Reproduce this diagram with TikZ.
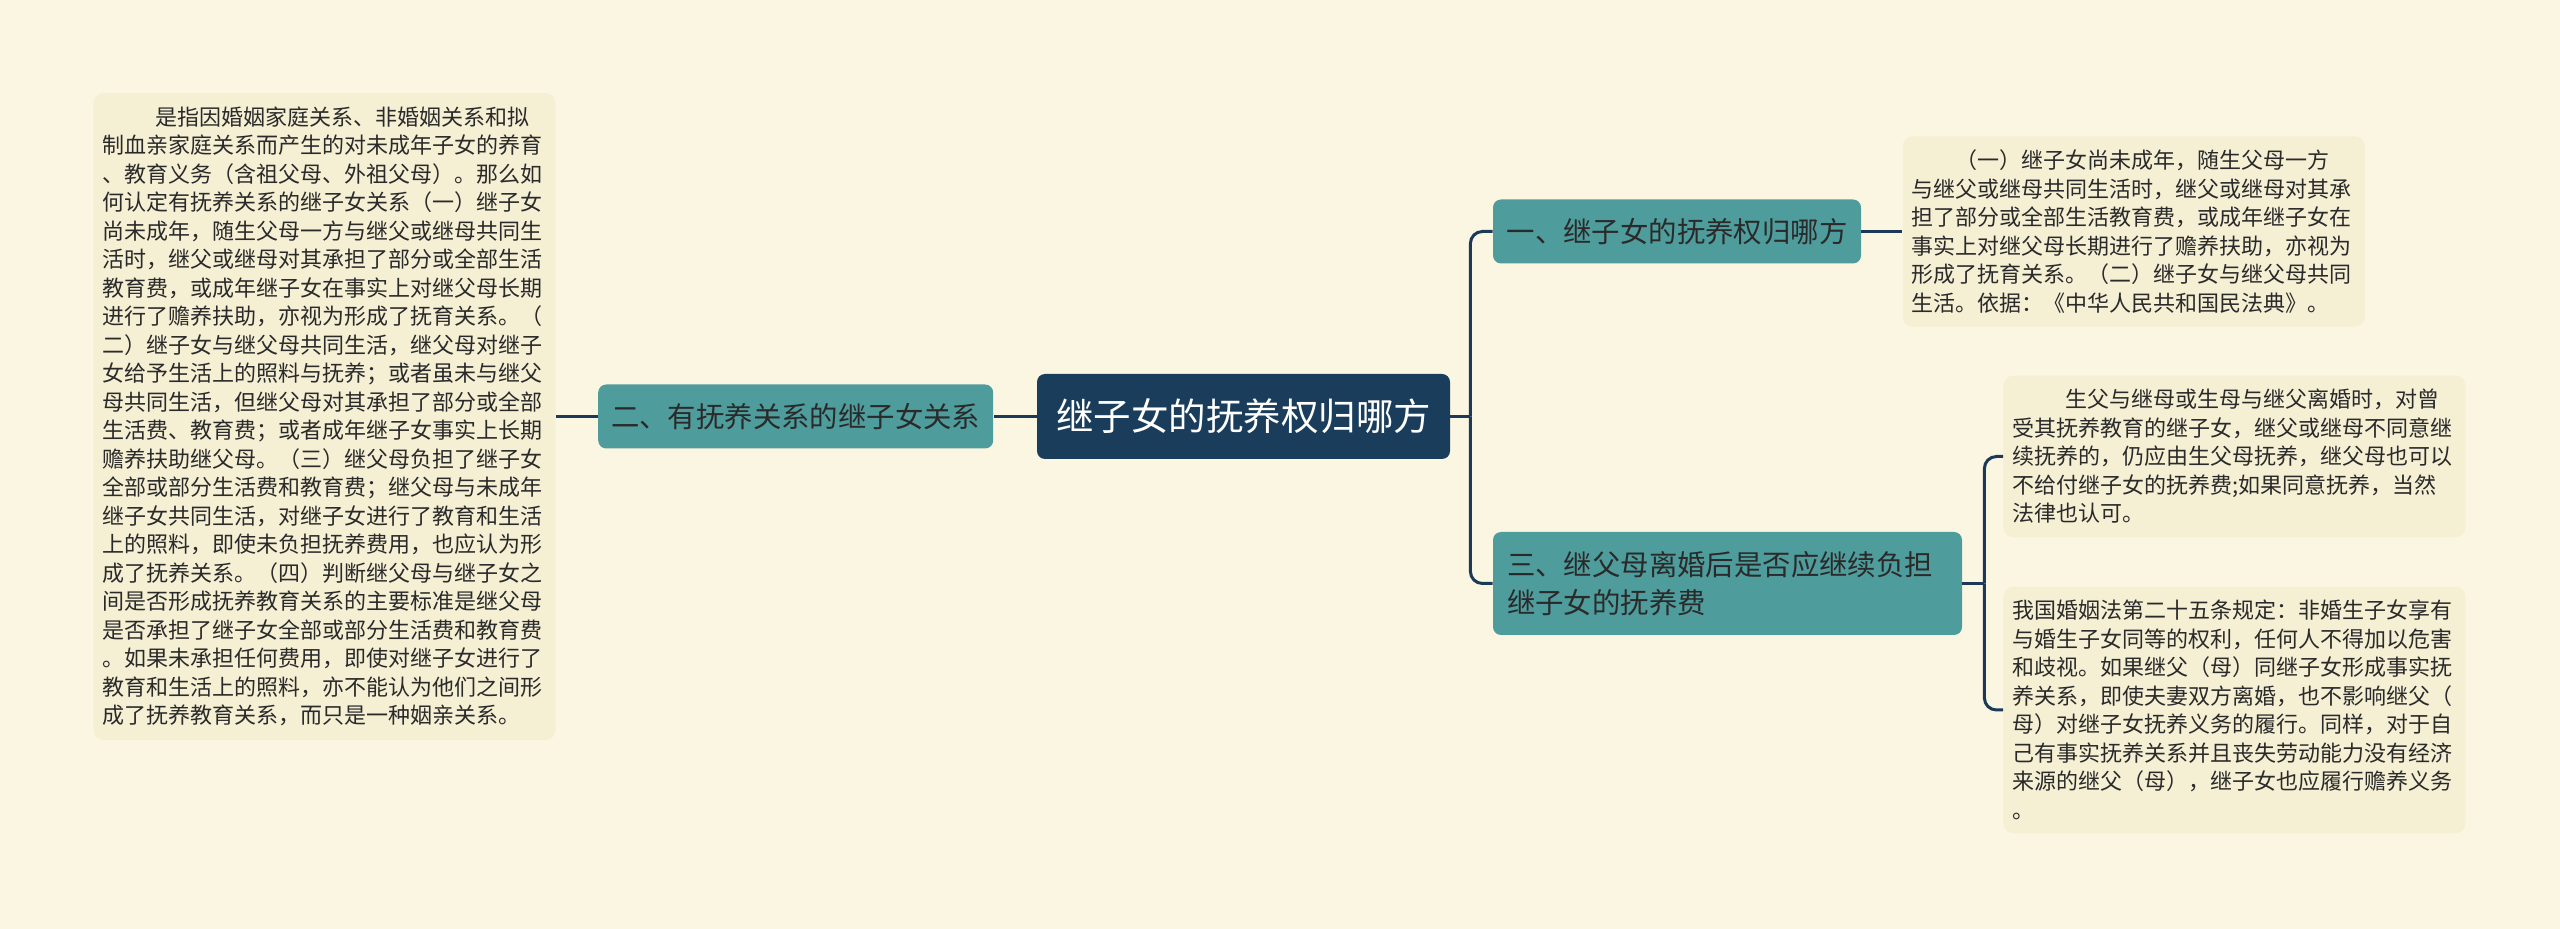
\documentclass[tikz,border=0pt]{standalone}
\usepackage{fontspec}
\newfontfamily\cjk{Noto Sans CJK SC}
\usepackage{xcolor}
\usepackage{tikz}
\usetikzlibrary{positioning}
\definecolor{bgcream}{HTML}{FBF6E2}
\definecolor{notefill}{HTML}{F5EFD4}
\definecolor{rootnavy}{HTML}{1A3D5C}
\definecolor{branchteal}{HTML}{4F9C9C}
\definecolor{linknavy}{HTML}{1C3A58}
\definecolor{inktext}{HTML}{2A2A2A}
\tikzset{
    rootbox/.style={rectangle, rounded corners=4pt, minimum width=206.5pt, minimum height=42.5pt, text centered, fill=rootnavy, text=white, font=\cjk\fontsize{18.75}{22}\selectfont},
    branch/.style={rectangle, rounded corners=4pt, minimum height=32pt, text centered, fill=branchteal, text=inktext, font=\cjk\fontsize{14.2}{19}\selectfont},
    note/.style={rectangle, rounded corners=5pt, fill=notefill, text=inktext, align=left, text width=222pt, inner xsep=4.5pt, inner ysep=6.8pt, font=\cjk\fontsize{11}{14.25}\selectfont},
    link/.style={draw=linknavy, line width=1.5pt}
}

\begin{document}
\begin{tikzpicture}[x=0.5pt, y=-0.5pt]
    \fill [bgcream] (0,0) rectangle (2560,929);
    \useasboundingbox (0,0) rectangle (2560,929);

    \node (root) [rootbox] at (1243.5,416.5) {继子女的抚养权归哪方};
    \node (two) [branch, minimum width=197.5pt, left=21.5pt of root] {二、有抚养关系的继子女关系};
    \node (one) [branch, minimum width=184pt] at (1677,231.5) {一、继子女的抚养权归哪方};
    \node (three) [branch, minimum width=234.5pt, minimum height=51.5pt, inner xsep=7pt, text width=220.5pt, align=left] at (1727.5,583.5) {三、继父母离婚后是否应继续负担\\继子女的抚养费};

    \node (twonote) [note, left=21pt of two] {\hspace*{2.4em}是指因婚姻家庭关系、非婚姻关系和拟\\制血亲家庭关系而产生的对未成年子女的养育\\、教育义务（含祖父母、外祖父母）。那么如\\何认定有抚养关系的继子女关系（一）继子女\\尚未成年，随生父母一方与继父或继母共同生\\活时，继父或继母对其承担了部分或全部生活\\教育费，或成年继子女在事实上对继父母长期\\进行了赡养扶助，亦视为形成了抚育关系。（\\二）继子女与继父母共同生活，继父母对继子\\女给予生活上的照料与抚养；或者虽未与继父\\母共同生活，但继父母对其承担了部分或全部\\生活费、教育费；或者成年继子女事实上长期\\赡养扶助继父母。（三）继父母负担了继子女\\全部或部分生活费和教育费；继父母与未成年\\继子女共同生活，对继子女进行了教育和生活\\上的照料，即使未负担抚养费用，也应认为形\\成了抚养关系。（四）判断继父母与继子女之\\间是否形成抚养教育关系的主要标准是继父母\\是否承担了继子女全部或部分生活费和教育费\\。如果未承担任何费用，即使对继子女进行了\\教育和生活上的照料，亦不能认为他们之间形\\成了抚养教育关系，而只是一种姻亲关系。};
    \node (onenote) [note, right=20.5pt of one] {\hspace*{2em}（一）继子女尚未成年，随生父母一方\\与继父或继母共同生活时，继父或继母对其承\\担了部分或全部生活教育费，或成年继子女在\\事实上对继父母长期进行了赡养扶助，亦视为\\形成了抚育关系。（二）继子女与继父母共同\\生活。依据：《中华人民共和国民法典》。};
    \node (threenoteA) [note, anchor=west] at (2003,456.5) {\hspace*{2.4em}生父与继母或生母与继父离婚时，对曾\\受其抚养教育的继子女，继父或继母不同意继\\续抚养的，仍应由生父母抚养，继父母也可以\\不给付继子女的抚养费;如果同意抚养，当然\\法律也认可。};
    \node (threenoteB) [note, anchor=west] at (2003,710) {我国婚姻法第二十五条规定：非婚生子女享有\\与婚生子女同等的权利，任何人不得加以危害\\和歧视。如果继父（母）同继子女形成事实抚\\养关系，即使夫妻双方离婚，也不影响继父（\\母）对继子女抚养义务的履行。同样，对于自\\己有事实抚养关系并且丧失劳动能力没有经济\\来源的继父（母），继子女也应履行赡养义务\\。};

    \coordinate (trunk) at ([xshift=10pt]root.east);
    \coordinate (fork) at ([xshift=11pt]three.east);

    \draw [link] (root.west) -- (two.east);
    \draw [link] (two.west) -- (twonote.east);
    \draw [link] (root.east) -- (trunk);
    \draw [link, rounded corners=6pt] (trunk) |- (one.west);
    \draw [link, rounded corners=6pt] (trunk) |- (three.west);
    \draw [link] (one.east) -- (onenote.west);
    \draw [link] (three.east) -- (fork);
    \draw [link, rounded corners=6pt] (fork) |- (threenoteA.west);
    \draw [link, rounded corners=6pt] (fork) |- (threenoteB.west);
\end{tikzpicture}
\end{document}
